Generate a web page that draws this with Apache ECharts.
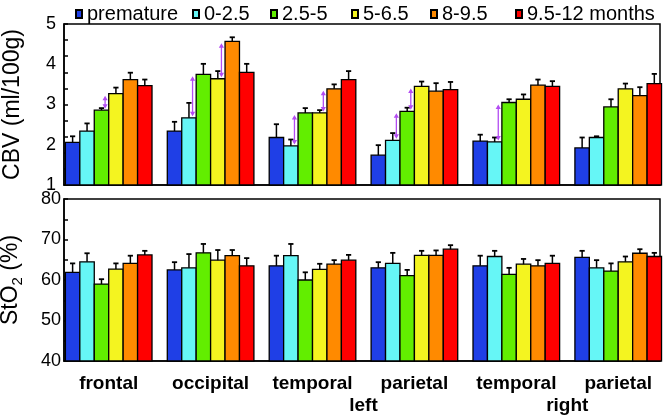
<!DOCTYPE html>
<html>
<head>
<meta charset="utf-8">
<script src="https://cdn.jsdelivr.net/npm/echarts@6/dist/echarts.min.js"></script>
<style>
html,body{margin:0;padding:0;background:#fff;}
#chart{width:663px;height:418px;}
</style>
</head>
<body>
<div id="chart"></div>
<script>
// ---------- data ----------
const regions = ['frontal', 'occipital', 'temporal', 'parietal', 'temporal', 'parietal'];
const sideLabels = ['left', 'right'];          // shown under temporal/parietal pairs
const sidePositions = [2.5, 4.5];
const ageGroups = ['premature', '0-2.5', '2.5-5', '5-6.5', '8-9.5', '9.5-12 months'];

// CBV (ml/100g) means and SE
const cbvPremature = [2.06, 2.34, 2.18, 1.74, 2.09, 1.92];
const cbv0to2_5    = [2.34, 2.67, 1.97, 2.11, 2.07, 2.18];
const cbv2_5to5    = [2.86, 3.75, 2.79, 2.83, 3.05, 2.94];
const cbv5to6_5    = [3.27, 3.64, 2.79, 3.45, 3.13, 3.39];
const cbv8to9_5    = [3.62, 4.57, 3.39, 3.33, 3.48, 3.22];
const cbv9_5to12   = [3.47, 3.80, 3.62, 3.37, 3.45, 3.52];
const cbvErrPremature = [0.15, 0.23, 0.33, 0.25, 0.16, 0.26];
const cbvErr0to2_5    = [0.19, 0.37, 0.16, 0.18, 0.11, 0.03];
const cbvErr2_5to5    = [0.05, 0.26, 0.12, 0.09, 0.08, 0.19];
const cbvErr5to6_5    = [0.15, 0.19, 0.07, 0.12, 0.12, 0.13];
const cbvErr8to9_5    = [0.17, 0.10, 0.11, 0.20, 0.14, 0.21];
const cbvErr9_5to12   = [0.15, 0.21, 0.21, 0.19, 0.13, 0.24];

// StO2 (%) means and SE
const sto2Premature = [61.9, 62.5, 63.5, 63.0, 63.5, 65.6];
const sto2_0to2_5   = [64.5, 63.0, 66.0, 64.1, 65.8, 63.0];
const sto2_2_5to5   = [59.0, 66.7, 60.0, 61.1, 61.4, 62.2];
const sto2_5to6_5   = [62.7, 64.9, 62.6, 66.1, 63.9, 64.5];
const sto2_8to9_5   = [64.1, 66.0, 63.9, 66.1, 63.5, 66.6];
const sto2_9_5to12  = [66.2, 63.5, 64.9, 67.6, 64.1, 65.8];
const sto2ErrPremature = [2.2, 1.9, 2.5, 1.4, 2.5, 1.6];
const sto2Err0to2_5    = [2.1, 3.4, 2.9, 2.6, 1.4, 1.9];
const sto2Err2_5to5    = [1.2, 2.2, 1.9, 1.4, 1.6, 1.9];
const sto2Err5to6_5    = [1.4, 2.5, 1.4, 1.1, 1.3, 1.3];
const sto2Err8to9_5    = [1.9, 1.4, 1.0, 1.2, 1.4, 1.0];
const sto2Err9_5to12   = [1.0, 1.9, 1.3, 1.0, 1.9, 0.9];

// significance arrows on CBV: [region index, lower age-group index] -> arrow to next group
const cbvArrows = [[0, 2], [1, 1], [1, 3], [2, 1], [2, 3], [3, 1], [3, 2], [4, 1]];

// tick labels
const cbvTickLabels = [1, 2, 3, 4, 5];
const cbvTickMarks = [1, 1.4, 1.8, 2.2, 2.6, 3, 3.4, 3.8, 4.2, 4.6, 5];
const sto2TickLabels = [40, 50, 60, 70, 80];
const sto2TickMarks = [40, 45, 50, 55, 60, 65, 70, 75, 80];

// ---------- styling ----------
const colors = ['#1f3fe6', '#66f6f6', '#62ee00', '#f4f420', '#ff8a00', '#ff0000'];
const FONT = 'Liberation Sans, Arial, sans-serif';
const CAT_GAP = 0.15;
const cbvMeans = [cbvPremature, cbv0to2_5, cbv2_5to5, cbv5to6_5, cbv8to9_5, cbv9_5to12];
const cbvErrs = [cbvErrPremature, cbvErr0to2_5, cbvErr2_5to5, cbvErr5to6_5, cbvErr8to9_5, cbvErr9_5to12];
const sto2Means = [sto2Premature, sto2_0to2_5, sto2_2_5to5, sto2_5to6_5, sto2_8to9_5, sto2_9_5to12];
const sto2Errs = [sto2ErrPremature, sto2Err0to2_5, sto2Err2_5to5, sto2Err5to6_5, sto2Err8to9_5, sto2Err9_5to12];

const chart = echarts.init(document.getElementById('chart'), null, {renderer: 'canvas'});

function barWidthOf(api) {
  return api.size([1, 0])[0] * (1 - CAT_GAP) / ageGroups.length;
}
function barCenter(api, region, idx) {
  const band = api.size([1, 0])[0];
  const bw = barWidthOf(api);
  const base = api.coord([region, 0])[0];
  return base - band * (1 - CAT_GAP) / 2 + (idx + 0.5) * bw;
}

function barRenderer(idx, baseValue) {
  return function (params, api) {
    const region = api.value(0);
    const bw = barWidthOf(api);
    const cx = barCenter(api, region, idx);
    const yTop = api.coord([region, api.value(1)])[1];
    const yBase = api.coord([region, baseValue])[1];
    return {
      type: 'rect',
      shape: {x: cx - bw / 2, y: yTop, width: bw, height: yBase - yTop},
      style: {fill: colors[idx], stroke: '#000', lineWidth: 1.3}
    };
  };
}

function errorItem(params, api) {
  const region = api.value(0), idx = api.value(1);
  const cx = barCenter(api, region, idx);
  const yMean = api.coord([region, api.value(2)])[1];
  const yTop = api.coord([region, api.value(3)])[1];
  return {
    type: 'group',
    children: [
      {type: 'line', shape: {x1: cx, y1: yMean, x2: cx, y2: yTop}, style: {stroke: '#000', lineWidth: 1.5}},
      {type: 'line', shape: {x1: cx - 2.6, y1: yTop, x2: cx + 2.6, y2: yTop}, style: {stroke: '#000', lineWidth: 1.8}}
    ]
  };
}

function arrowItem(params, api) {
  const region = api.value(0), idx = api.value(1);
  const cx = barCenter(api, region, idx) + 3.6;
  const yLow = api.coord([region, api.value(2)])[1] - 1.5;
  const yHigh = api.coord([region, api.value(3)])[1] + 2;
  const c = '#b34cf2';
  const h = 4.5, w = 2.6;
  return {
    type: 'group',
    children: [
      {type: 'line', shape: {x1: cx, y1: yHigh + 2, x2: cx, y2: yLow - 2}, style: {stroke: c, lineWidth: 1.3}},
      {type: 'polygon', shape: {points: [[cx, yHigh], [cx - w, yHigh + h], [cx + w, yHigh + h]]}, style: {fill: c}},
      {type: 'polygon', shape: {points: [[cx, yLow], [cx - w, yLow - h], [cx + w, yLow - h]]}, style: {fill: c}}
    ]
  };
}

const series = [];
function addPanel(means, errs, gi, baseValue) {
  ageGroups.forEach((name, i) => {
    series.push({
      type: 'custom', name: name, xAxisIndex: gi, yAxisIndex: gi,
      renderItem: barRenderer(i, baseValue),
      data: means[i].map((v, r) => [r, v]), encode: {x: 0, y: 1},
      itemStyle: {color: colors[i], borderColor: '#000', borderWidth: 1.2},
      z: 2, animation: false, silent: true
    });
  });
  const errData = [];
  ageGroups.forEach((name, i) => {
    means[i].forEach((v, r) => errData.push([r, i, v, v + errs[i][r]]));
  });
  series.push({
    type: 'custom', xAxisIndex: gi, yAxisIndex: gi, renderItem: errorItem,
    data: errData, encode: {x: 0, y: 3}, z: 5, animation: false, silent: true
  });
}
addPanel(cbvMeans, cbvErrs, 0, cbvTickLabels[0]);
addPanel(sto2Means, sto2Errs, 1, sto2TickLabels[0]);
series.push({
  type: 'custom', xAxisIndex: 0, yAxisIndex: 0, renderItem: arrowItem,
  data: cbvArrows.map(([r, i]) => [r, i, cbvMeans[i][r], cbvMeans[i + 1][r]]),
  encode: {x: 0, y: 3}, z: 6, animation: false, silent: true
});

const X_MIN = -0.4387, X_MAX = 5.41;
const xLabelValues = regions.map((_, i) => i).concat(sidePositions);
function xLabelFormatter(v) {
  const si = sidePositions.indexOf(v);
  if (si >= 0) return '\n' + sideLabels[si];
  const i = Math.round(v);
  return (Math.abs(v - i) < 1e-6 && regions[i] !== undefined) ? regions[i] : '';
}

const legendLefts = [70, 187, 265, 346, 425, 510];
const legends = ageGroups.map((name, i) => ({
  data: [name], left: legendLefts[i], top: -1,
  itemWidth: 6, itemHeight: 8, icon: 'rect', selectedMode: false,
  textStyle: {fontFamily: FONT, fontSize: 20, color: '#000'}
}));

const option = {
  backgroundColor: '#fff',
  animation: false,
  legend: legends,
  grid: [
    {left: 64, right: 3, top: 24, height: 161, outerBoundsMode: 'none', containLabel: false,
     show: true, borderColor: '#000', borderWidth: 1.5, backgroundColor: 'transparent'},
    {left: 64, right: 3, top: 199, height: 162, outerBoundsMode: 'none', containLabel: false,
     show: true, borderColor: '#000', borderWidth: 1.5, backgroundColor: 'transparent'}
  ],
  xAxis: [
    {type: 'value', gridIndex: 0, min: X_MIN, max: X_MAX,
     axisLine: {show: true, onZero: false, lineStyle: {color: '#000', width: 1.5}},
     axisTick: {show: false}, axisLabel: {show: false}, splitLine: {show: false}},
    {type: 'value', gridIndex: 1, min: X_MIN, max: X_MAX,
     axisLine: {show: true, onZero: false, lineStyle: {color: '#000', width: 1.5}},
     axisTick: {show: false}, splitLine: {show: false},
     axisLabel: {show: true, customValues: xLabelValues, formatter: xLabelFormatter, margin: 12,
       fontFamily: FONT, fontSize: 19, fontWeight: 'bold', color: '#000', lineHeight: 22,
       showMinLabel: true, showMaxLabel: true}}
  ],
  yAxis: [
    {type: 'value', gridIndex: 0, min: 1, max: 5,
     axisLine: {show: true, onZero: false, lineStyle: {color: '#000', width: 1.5}},
     axisTick: {show: true, inside: true, length: 4, customValues: cbvTickMarks, lineStyle: {color: '#000', width: 1.5}},
     axisLabel: {customValues: cbvTickLabels, margin: 8, fontFamily: FONT, fontSize: 18, color: '#000'},
     splitLine: {show: false},
     name: 'CBV (ml/100g)', nameLocation: 'middle', nameRotate: 90, nameGap: 40,
     nameTextStyle: {fontFamily: FONT, fontSize: 23, color: '#000'}},
    {type: 'value', gridIndex: 1, min: 40, max: 80,
     axisLine: {show: true, onZero: false, lineStyle: {color: '#000', width: 1.5}},
     axisTick: {show: true, inside: true, length: 4, customValues: sto2TickMarks, lineStyle: {color: '#000', width: 1.5}},
     axisLabel: {customValues: sto2TickLabels, margin: 3, fontFamily: FONT, fontSize: 18, color: '#000'},
     splitLine: {show: false},
     name: '{a|StO}{s|2}{a| (%)}', nameLocation: 'middle', nameRotate: 90, nameGap: 39,
     nameTextStyle: {fontFamily: FONT, fontSize: 23, color: '#000',
       rich: {a: {fontFamily: FONT, fontSize: 23, color: '#000', lineHeight: 28, verticalAlign: 'middle'},
              s: {fontFamily: FONT, fontSize: 15, color: '#000', lineHeight: 16, verticalAlign: 'bottom'}}}}
  ],
  series: series
};
chart.setOption(option);
</script>
</body>
</html>
